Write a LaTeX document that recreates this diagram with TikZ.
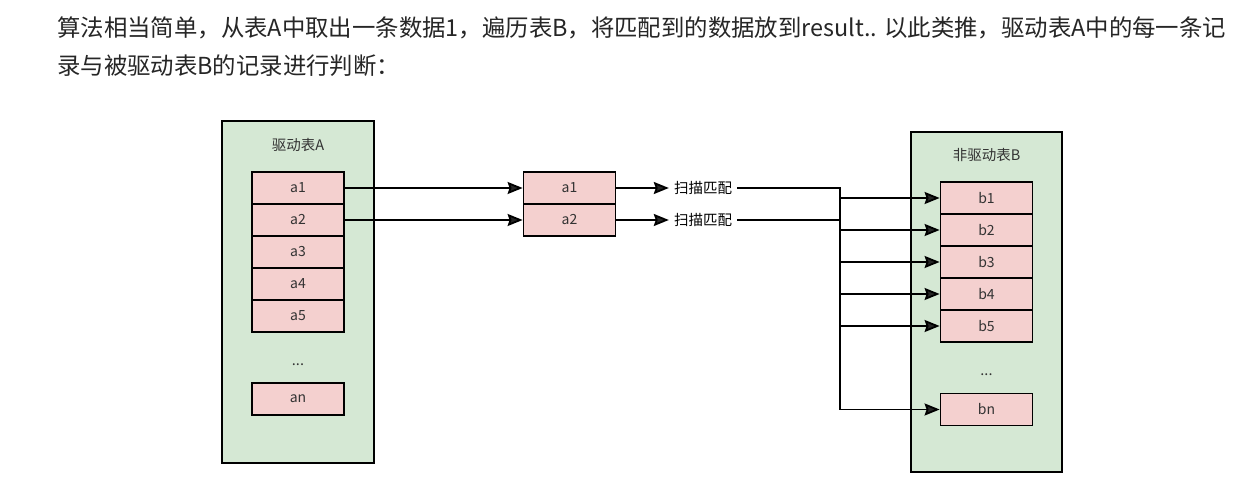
\documentclass[tikz,border=0pt]{standalone}
\usepackage{fontspec}
\setmainfont{Noto Sans CJK SC}
\usetikzlibrary{arrows.meta}
\definecolor{tablegreen}{RGB}{213,232,212}
\definecolor{rowpink}{RGB}{244,208,207}
\definecolor{inkgray}{RGB}{51,51,51}

\begin{document}
\begin{tikzpicture}[x=1pt,y=-1pt,
    tablebox/.style={draw=black, line width=1.8pt, fill=tablegreen, inner sep=0pt},
    rowbox/.style={draw=black, line width=1.8pt, fill=rowpink, minimum width=92pt,
        minimum height=32pt, inner sep=0pt, text=inkgray, font=\fontsize{14pt}{16pt}\selectfont},
    tabletitle/.style={text=inkgray, font=\fontsize{14.5pt}{17pt}\selectfont},
    scanlabel/.style={inner sep=5pt, text=black, font=\fontsize{14.5pt}{17pt}\selectfont},
    headline/.style={anchor=west, inner sep=0pt, text=black!85, font=\fontsize{23.4pt}{28pt}\selectfont},
    wire/.style={line width=1.8pt, draw=black},
    flow/.style={wire, -{Stealth[length=15pt,width=12pt,inset=2pt,fill=black!85]}}]

    % page
    \fill[white] (0,0) rectangle (1241,489);
    \useasboundingbox (0,0) rectangle (1241,489);

    % text above the diagram
    \node[headline] (line1) at (57,28) {算法相当简单，从表A中取出一条数据1，遍历表B，将匹配到的数据放到result.. 以此类推，驱动表A中的每一条记};
    \node[headline] (line2) at (57,66) {录与被驱动表B的记录进行判断：};

    % driving table A
    \node[tablebox, minimum width=152pt, minimum height=342pt] (tabA) at (298,292) {};
    \node[tabletitle] (titleA) at (298,145) {驱动表A};
    \foreach \i in {1,...,5}
        \node[rowbox] (a\i) at (298,{156+32*\i}) {a\i};
    \node[tabletitle] (dotsA) at (298,365) {...};
    \node[rowbox] (an) at (298,399) {an};

    % rows taken out of A
    \node[rowbox] (ma1) at (569.5,188) {a1};
    \node[rowbox] (ma2) at (569.5,220) {a2};
    \node[scanlabel] (scan1) at (703,188) {扫描匹配};
    \node[scanlabel] (scan2) at (703,220) {扫描匹配};

    % driven table B
    \node[tablebox, minimum width=151pt, minimum height=340pt] (tabB) at (986.5,302) {};
    \node[tabletitle] (titleB) at (986.5,155) {非驱动表B};
    \foreach \i in {1,...,5}
        \node[rowbox] (b\i) at (986.5,{166+32*\i}) {b\i};
    \node[tabletitle] (dotsB) at (986.5,375) {...};
    \node[rowbox] (bn) at (986.5,409.5) {bn};

    % Arrows
    \coordinate (bus) at (840,0);
    \draw[flow] (a1.east) -- (ma1.west);
    \draw[flow] (a2.east) -- (ma2.west);
    \draw[flow] (ma1.east) -- (scan1.west);
    \draw[flow] (ma2.east) -- (scan2.west);
    \draw[wire] (scan1.east) -- (scan1.east -| bus) -- (bus |- bn.west);
    \draw[wire] (scan2.east) -- (scan2.east -| bus);
    \foreach \b in {b1,b2,b3,b4,b5,bn}
        \draw[flow] (bus |- \b.west) -- (\b.west);
\end{tikzpicture}
\end{document}
